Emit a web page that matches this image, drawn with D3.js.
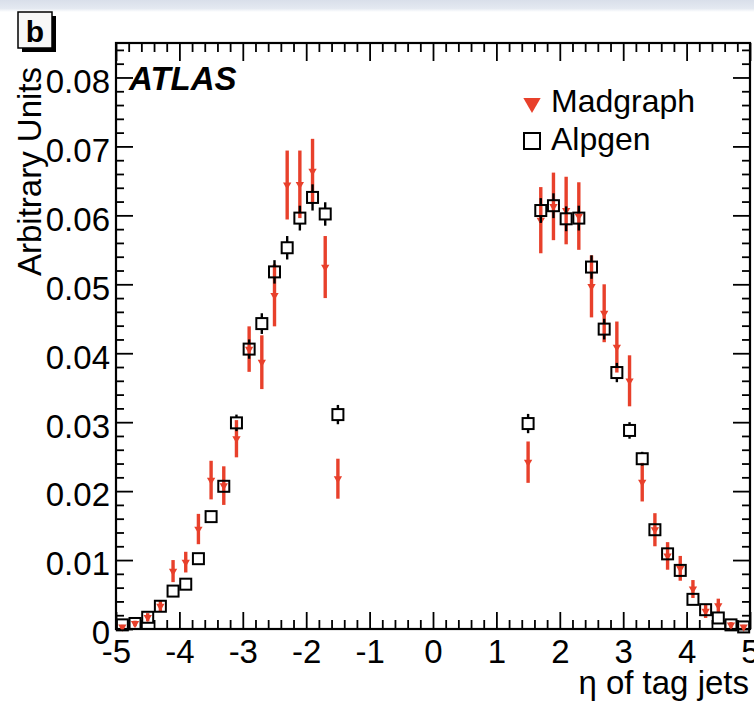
<!DOCTYPE html>
<html>
<head>
<meta charset="utf-8">
<script src="https://cdn.jsdelivr.net/npm/d3@7"></script>
<style>
  body { margin: 0; background: #fff; }
  svg { display: block; font-family: "Liberation Sans", Arial, Helvetica, sans-serif; }
  .axis text { font-size: 33px; fill: #000; }
  .axis line { stroke: #000; stroke-width: 1.8; }
  .axis .domain { display: none; }
</style>
</head>
<body>
<svg id="chart"></svg>
<script>
// bin centres of eta (0.2 wide bins, central region empty)
const etaCenters = [-4.9, -4.7, -4.5, -4.3, -4.1, -3.9, -3.7, -3.5, -3.3, -3.1, -2.9, -2.7, -2.5, -2.3, -2.1, -1.9, -1.7, -1.5,
                    1.5, 1.7, 1.9, 2.1, 2.3, 2.5, 2.7, 2.9, 3.1, 3.3, 3.5, 3.7, 3.9, 4.1, 4.3, 4.5, 4.7, 4.9];

const alpgenValues = [0.0006, 0.0008, 0.0017, 0.0033, 0.0055, 0.0065, 0.0102, 0.0163, 0.0207, 0.0299, 0.0406, 0.0443, 0.0518, 0.0553, 0.0596, 0.0626, 0.0602, 0.0311,
                      0.0298, 0.0607, 0.0614, 0.0595, 0.0596, 0.0525, 0.0435, 0.0372, 0.0288, 0.0247, 0.0144, 0.0109, 0.0085, 0.0043, 0.0028, 0.0016, 0.0006, 0.0003];
const alpgenErrors = [0.0001, 0.0001, 0.0002, 0.0003, 0.0004, 0.0005, 0.0006, 0.0007, 0.0008, 0.0012, 0.0014, 0.0015, 0.0017, 0.0017, 0.0018, 0.0019, 0.0017, 0.0014,
                      0.0014, 0.0018, 0.0018, 0.0018, 0.0018, 0.0017, 0.0015, 0.0014, 0.0012, 0.0010, 0.0008, 0.0007, 0.0006, 0.0004, 0.0003, 0.0002, 0.0001, 0.0001];

const madgraphValues = [0.0003, 0.0008, 0.0017, 0.0033, 0.0084, 0.0097, 0.0145, 0.0216, 0.0208, 0.0276, 0.0406, 0.0387, 0.0484, 0.0644, 0.0645, 0.0664, 0.0525, 0.0218,
                        0.0242, 0.0593, 0.0613, 0.0607, 0.0599, 0.0497, 0.0458, 0.0409, 0.0360, 0.0213, 0.0144, 0.0106, 0.0088, 0.0058, 0.0026, 0.0034, 0.0006, 0.0003];
const madgraphErrors = [0.0003, 0.0004, 0.0006, 0.0008, 0.0016, 0.0015, 0.0022, 0.0028, 0.0028, 0.0027, 0.0033, 0.0039, 0.0045, 0.0050, 0.0049, 0.0047, 0.0045, 0.0029,
                        0.0030, 0.0048, 0.0049, 0.0049, 0.0049, 0.0045, 0.0042, 0.0037, 0.0037, 0.0028, 0.0024, 0.0020, 0.0018, 0.0013, 0.0010, 0.0010, 0.0004, 0.0003];

const xMajorTicks = [-5, -4, -3, -2, -1, 0, 1, 2, 3, 4, 5];
const xTickLabels = ['-5', '-4', '-3', '-2', '-1', '0', '1', '2', '3', '4', '5'];
const yMajorTicks = [0, 0.01, 0.02, 0.03, 0.04, 0.05, 0.06, 0.07, 0.08];
const yTickLabels = ['0', '0.01', '0.02', '0.03', '0.04', '0.05', '0.06', '0.07', '0.08'];

const seriesNames = ['Madgraph', 'Alpgen'];

class EtaPlot {

  constructor(_config) {
    this.config = {
      parentElement: _config.parentElement,
      containerWidth: 754,
      containerHeight: 711,
      margin: {top: 43, right: 4, bottom: 82, left: 116},
      red: '#e8402b'
    }
    this.initVis();
  }

  initVis() {
    let vis = this;

    vis.width = vis.config.containerWidth - vis.config.margin.left - vis.config.margin.right;
    vis.height = vis.config.containerHeight - vis.config.margin.top - vis.config.margin.bottom;

    vis.xScale = d3.scaleLinear().domain([-5, 5]).range([0, vis.width]);
    vis.yScale = d3.scaleLinear().domain([0, 0.085]).range([vis.height, 0]);

    vis.svg = d3.select(vis.config.parentElement)
        .attr('width', vis.config.containerWidth)
        .attr('height', vis.config.containerHeight);

    // light band of the original screenshot at the top
    const grad = vis.svg.append('defs').append('linearGradient')
        .attr('id', 'band').attr('x1', 0).attr('y1', 0).attr('x2', 0).attr('y2', 1);
    grad.append('stop').attr('offset', '0%').attr('stop-color', '#d9dfea');
    grad.append('stop').attr('offset', '70%').attr('stop-color', '#e4e9f1');
    grad.append('stop').attr('offset', '100%').attr('stop-color', '#ffffff');
    vis.svg.append('rect')
        .attr('x', 0).attr('y', 0).attr('width', vis.config.containerWidth).attr('height', 12)
        .attr('fill', 'url(#band)');

    vis.chart = vis.svg.append('g')
        .attr('transform', `translate(${vis.config.margin.left},${vis.config.margin.top})`);

    const xMinor = d3.range(-50, 51, 2).map(d => d / 10).filter(d => xMajorTicks.indexOf(d) < 0);
    const yMinor = d3.range(0, 85, 2).map(d => d / 1000).filter(d => yMajorTicks.indexOf(d) < 0);

    // bottom axis with labels, ticks pointing inward
    vis.chart.append('g')
        .attr('class', 'axis x-axis')
        .attr('transform', `translate(0,${vis.height})`)
        .call(d3.axisBottom(vis.xScale).tickValues(xMajorTicks)
          .tickFormat((d, i) => xTickLabels[i]).tickSize(-17).tickPadding(11));
    vis.chart.append('g')
        .attr('class', 'axis')
        .attr('transform', `translate(0,${vis.height})`)
        .call(d3.axisBottom(vis.xScale).tickValues(xMinor).tickFormat('').tickSize(-9));

    // top axis, ticks only
    vis.chart.append('g')
        .attr('class', 'axis')
        .call(d3.axisTop(vis.xScale).tickValues(xMajorTicks).tickFormat('').tickSize(-18));
    vis.chart.append('g')
        .attr('class', 'axis')
        .call(d3.axisTop(vis.xScale).tickValues(xMinor).tickFormat('').tickSize(-9));

    // left axis with labels
    vis.chart.append('g')
        .attr('class', 'axis y-axis')
        .call(d3.axisLeft(vis.yScale).tickValues(yMajorTicks)
          .tickFormat((d, i) => yTickLabels[i]).tickSize(-17).tickPadding(6))
      .selectAll('text')
        .attr('dy', '0.45em');
    vis.chart.append('g')
        .attr('class', 'axis')
        .call(d3.axisLeft(vis.yScale).tickValues(yMinor).tickFormat('').tickSize(-8));

    // right axis, ticks only
    vis.chart.append('g')
        .attr('class', 'axis')
        .attr('transform', `translate(${vis.width},0)`)
        .call(d3.axisRight(vis.yScale).tickValues(yMajorTicks).tickFormat('').tickSize(-17));
    vis.chart.append('g')
        .attr('class', 'axis')
        .attr('transform', `translate(${vis.width},0)`)
        .call(d3.axisRight(vis.yScale).tickValues(yMinor).tickFormat('').tickSize(-8));

    // frame
    vis.chart.append('rect')
        .attr('x', 0).attr('y', 0).attr('width', vis.width).attr('height', vis.height)
        .attr('fill', 'none').attr('stroke', '#000').attr('stroke-width', 2.2);

    // axis titles
    vis.svg.append('text')
        .attr('text-anchor', 'end')
        .attr('transform', 'translate(41,67) rotate(-90)')
        .style('font-size', '33px')
        .text('Arbitrary Units');
    vis.svg.append('text')
        .attr('text-anchor', 'end')
        .attr('x', 749).attr('y', 694)
        .style('font-size', '33px')
        .text('η of tag jets');

    vis.svg.append('text')
        .attr('x', 129).attr('y', 90)
        .style('font-size', '33px').style('font-weight', 'bold').style('font-style', 'italic')
        .text('ATLAS');

    // panel label "b"
    vis.svg.append('rect')
        .attr('x', 22).attr('y', 16).attr('width', 34).attr('height', 36).attr('fill', '#000');
    vis.svg.append('rect')
        .attr('x', 18).attr('y', 12).attr('width', 34).attr('height', 36)
        .attr('fill', '#f7f7f7').attr('stroke', '#000').attr('stroke-width', 1.5);
    vis.svg.append('text')
        .attr('x', 35).attr('y', 42).attr('text-anchor', 'middle')
        .style('font-size', '30px').style('font-weight', 'bold')
        .text('b');

    vis.updateVis();
  }

  updateVis() {
    let vis = this;

    vis.madgraph = etaCenters.map((eta, i) => ({eta: eta, value: madgraphValues[i], err: madgraphErrors[i]}));
    vis.alpgen = etaCenters.map((eta, i) => ({eta: eta, value: alpgenValues[i], err: alpgenErrors[i]}));

    vis.renderVis();
  }

  renderVis() {
    let vis = this;
    const red = vis.config.red;
    const half = 5.5;
    const tri = d3.symbol().type(d3.symbolTriangle).size(30);

    // Madgraph: red error bars and small down triangles
    vis.chart.selectAll('.mg-err')
        .data(vis.madgraph)
      .join('line')
        .attr('class', 'mg-err')
        .attr('x1', d => vis.xScale(d.eta)).attr('x2', d => vis.xScale(d.eta))
        .attr('y1', d => vis.yScale(d.value + d.err))
        .attr('y2', d => vis.yScale(Math.max(0, d.value - d.err)))
        .attr('stroke', red).attr('stroke-width', 3.4);
    vis.chart.selectAll('.mg-pt')
        .data(vis.madgraph)
      .join('path')
        .attr('class', 'mg-pt')
        .attr('d', tri)
        .attr('transform', d => `translate(${vis.xScale(d.eta)},${vis.yScale(d.value)}) rotate(180)`)
        .attr('fill', red);

    // Alpgen: black error bars outside the open squares
    const segs = [];
    vis.alpgen.forEach(d => {
      const yc = vis.yScale(d.value);
      const yTop = vis.yScale(d.value + d.err);
      const yBot = vis.yScale(Math.max(0, d.value - d.err));
      if (yc - yTop > half) segs.push({x: vis.xScale(d.eta), y1: yTop, y2: yc - half});
      if (yBot - yc > half) segs.push({x: vis.xScale(d.eta), y1: yc + half, y2: yBot});
    });
    vis.chart.selectAll('.al-err')
        .data(segs)
      .join('line')
        .attr('class', 'al-err')
        .attr('x1', d => d.x).attr('x2', d => d.x)
        .attr('y1', d => d.y1).attr('y2', d => d.y2)
        .attr('stroke', '#000').attr('stroke-width', 2.4);
    vis.chart.selectAll('.al-pt')
        .data(vis.alpgen)
      .join('rect')
        .attr('class', 'al-pt')
        .attr('x', d => vis.xScale(d.eta) - half)
        .attr('y', d => vis.yScale(d.value) - half)
        .attr('width', 2 * half).attr('height', 2 * half)
        .attr('fill', 'none').attr('stroke', '#000').attr('stroke-width', 2);

    // legend
    const legend = vis.svg.append('g').attr('transform', 'translate(532,0)');
    legend.append('path')
        .attr('d', d3.symbol().type(d3.symbolTriangle).size(130))
        .attr('transform', 'translate(0,103) rotate(180)')
        .attr('fill', red);
    legend.append('rect')
        .attr('x', -8).attr('y', 133).attr('width', 16).attr('height', 16)
        .attr('fill', 'none').attr('stroke', '#000').attr('stroke-width', 2);
    legend.selectAll('.legend-label')
        .data(seriesNames)
      .join('text')
        .attr('class', 'legend-label')
        .attr('x', 19)
        .attr('y', (d, i) => 112 + i * 38)
        .style('font-size', '32px')
        .text(d => d);
  }
}

new EtaPlot({parentElement: '#chart'});
</script>
</body>
</html>
